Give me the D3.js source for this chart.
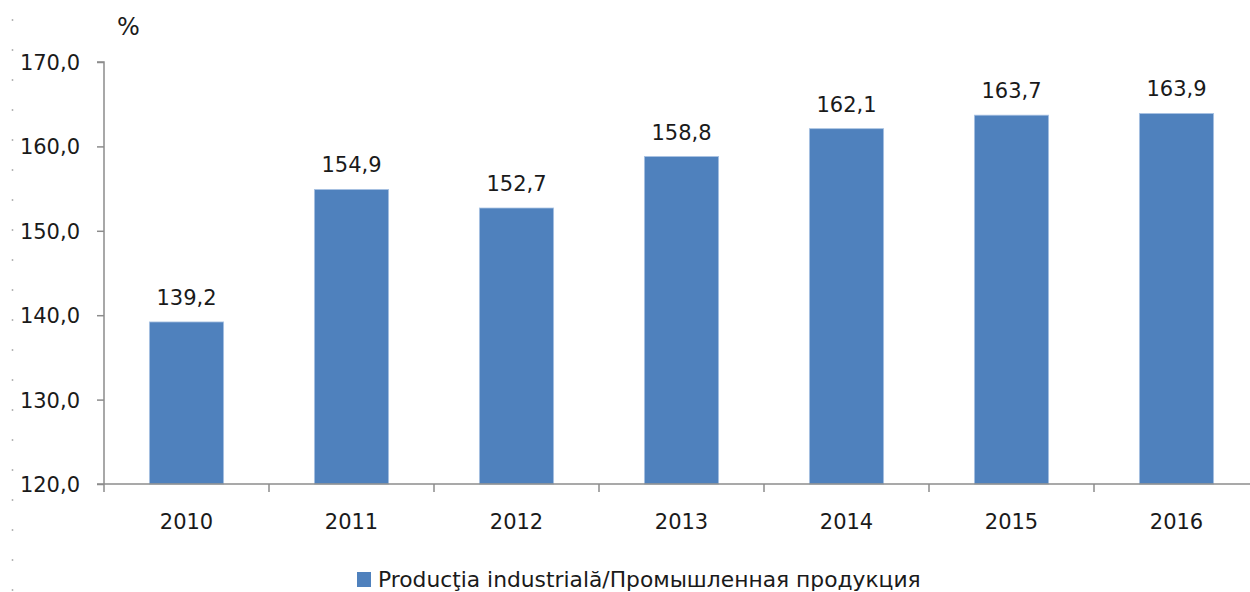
<!DOCTYPE html>
<html>
<head>
<meta charset="utf-8">
<script src="https://cdn.jsdelivr.net/npm/d3@7"></script>
<style>
  html, body { margin: 0; padding: 0; background: #fff; }
  svg { display: block; }
  text { font-family: "DejaVu Sans", sans-serif; fill: #1a1a1a; }
</style>
</head>
<body>
<svg id="chart" width="1250" height="592"></svg>
<script>
const categories = ["2010", "2011", "2012", "2013", "2014", "2015", "2016"];
const values = [139.2, 154.9, 152.7, 158.8, 162.1, 163.7, 163.9];
const yTicks = [120, 130, 140, 150, 160, 170];
const seriesName = "Producţia industrială/Промышленная продукция";
const unitLabel = "%";

(function () {
const svg = d3.select("#chart");
const W = 1250, H = 592;
const pLeft = 104, pRight = 1259, pTop = 62, pBottom = 484;
const fs = "21px";

const x = d3.scaleBand().domain(categories).range([pLeft, pRight]).padding(0);
const y = d3.scaleLinear().domain([120, 170]).range([pBottom, pTop]);
const fmt = v => d3.format(".1f")(v).replace(".", ",");

// faint dotted line on left edge
svg.append("line")
  .attr("x1", 12.5).attr("x2", 12.5).attr("y1", 19).attr("y2", 592)
  .attr("stroke", "#b5b5b5").attr("stroke-width", 1.5)
  .attr("stroke-dasharray", "2,28");

const axisColor = "#8c8c8c";

// bars
const bw = x.bandwidth() * 0.45;
svg.append("g").selectAll("rect").data(values).join("rect")
  .attr("x", (d, i) => x(categories[i]) + (x.bandwidth() - bw) / 2)
  .attr("y", d => y(d))
  .attr("width", bw)
  .attr("height", d => y(120) - y(d))
  .attr("fill", "#4F81BD")
  .attr("stroke", "#a9c3e3").attr("stroke-width", 0.8);

// y axis
const yAxis = d3.axisLeft(y).tickValues(yTicks).tickSize(7).tickFormat(fmt);
const gy = svg.append("g").attr("transform", `translate(${pLeft},0)`).call(yAxis);
gy.select(".domain").attr("stroke", axisColor).attr("stroke-width", 1.5).attr("d", `M-7,${pTop}H0V${pBottom}`);
gy.selectAll(".tick line").attr("stroke", axisColor).attr("stroke-width", 1.5);
gy.selectAll(".tick text")
  .attr("x", -24).attr("dy", "0.36em")
  .style("font-family", "'DejaVu Sans', sans-serif")
  .style("font-size", fs).attr("fill", "#1a1a1a");

// x axis
const boundaries = categories.map(c => x(c)).concat([pRight]);
const xg = svg.append("g");
xg.append("line").attr("x1", pLeft - 7).attr("x2", W).attr("y1", pBottom).attr("y2", pBottom)
  .attr("stroke", axisColor).attr("stroke-width", 1.5);
xg.selectAll("line.tk").data(boundaries).join("line").attr("class", "tk")
  .attr("x1", d => d).attr("x2", d => d).attr("y1", pBottom).attr("y2", pBottom + 8)
  .attr("stroke", axisColor).attr("stroke-width", 1.5);
xg.selectAll("text").data(categories).join("text")
  .attr("x", d => x(d) + x.bandwidth() / 2)
  .attr("y", 529)
  .attr("text-anchor", "middle")
  .style("font-size", fs)
  .text(d => d);

// value labels
svg.append("g").selectAll("text").data(values).join("text")
  .attr("x", (d, i) => x(categories[i]) + x.bandwidth() / 2)
  .attr("y", d => y(d) - 17)
  .attr("text-anchor", "middle")
  .style("font-size", fs)
  .text(d => fmt(d));

// unit
svg.append("text").attr("x", 117).attr("y", 35).style("font-size", "24px").text(unitLabel);

// legend
const lg = svg.append("g");
lg.append("rect").attr("x", 357).attr("y", 572).attr("width", 14).attr("height", 15).attr("fill", "#4F81BD");
lg.append("text").attr("x", 378).attr("y", 587).style("font-size", "21.8px").text(seriesName);
})();
</script>
</body>
</html>
